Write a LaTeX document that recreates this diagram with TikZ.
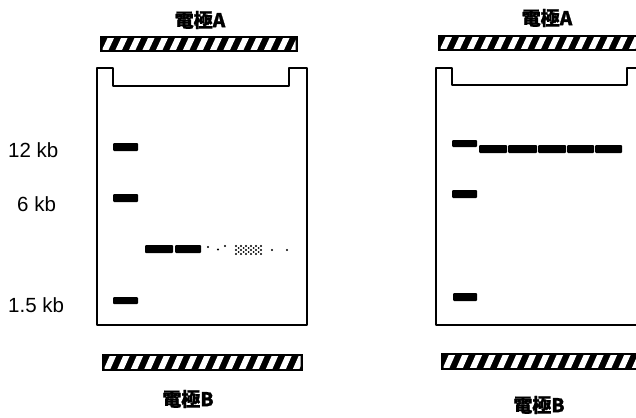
\documentclass[tikz,border=0pt]{standalone}
\usepackage{fontspec}
\setmainfont{Liberation Sans}
\newfontfamily\cjk{Noto Sans CJK TC}[BoldFeatures={FakeBold=1}]
\newcommand\hatchbar[4]{%
  \begin{scope}
    \fill[black] (#1,#2) rectangle (#3,#4);
    \clip (#1+2.5,#2+2.5) rectangle (#3-2.5,#4-2.5);
    \foreach \i in {0,...,15} {
      \fill[white] ({#1+1+13.5*\i},#4) -- ++(6.5,0) -- ++(7.5,{-(#4-#2)}) -- ++(-6.5,0) -- cycle;
    }
  \end{scope}}
\begin{document}
\begin{tikzpicture}[x=1pt,y=-1pt,
  gel/.style={line width=2.2pt, line join=round},
  band/.style={fill=black, rounded corners=1pt},
  speck/.style={fill=black},
  kblabel/.style={anchor=west, inner sep=0pt, font=\fontsize{20.5}{22}\selectfont},
  elabel/.style={inner sep=0pt, font=\cjk\bfseries\fontsize{19}{21}\selectfont}]
\useasboundingbox (0,0) rectangle (636,417);
\clip (0,0) rectangle (636,417);

% electrode labels
\node[elabel] (ea1) at (200,20) {電極A};
\node[elabel] (ea2) at (547,18) {電極A};
\node[elabel] (eb1) at (188,399) {電極B};
\node[elabel] (eb2) at (539,405) {電極B};

% electrodes
\hatchbar{100}{36}{298}{52}
\hatchbar{438}{35}{645}{51}
\hatchbar{102}{354}{303}{371}
\hatchbar{441}{353}{645}{370}

% gel boxes
\draw[gel] (97,325) -- (97,68) -- (113,68) -- (113,86) -- (289,86) -- (289,68) -- (307,68) -- (307,325) -- cycle;
\draw[gel] (436,325) -- (436,68) -- (452,68) -- (452,85) -- (627,85) -- (627,68) -- (645,68) -- (645,325) -- cycle;

% size labels
\node[kblabel] (l12) at (8,150) {12 kb};
\node[kblabel] (l6) at (17,204) {6 kb};
\node[kblabel] (l15) at (8,305) {1.5 kb};

% left gel bands
\fill[band] (113,143) rectangle (138,151);
\fill[band] (113,194) rectangle (138,202);
\fill[band] (113,297) rectangle (138,304);
\fill[band] (145,245) rectangle (173,253);
\fill[band] (175,245) rectangle (201,253);
\fill[speck] (208,247) circle (1.1);
\fill[speck] (218,249.5) circle (1.1);
\fill[speck] (225,246) circle (1.1);
\foreach \x in {236,241,...,261} {
  \foreach \y in {246,250,254} {
    \fill[speck] (\x,\y) circle (1.1);
  }
}
\foreach \x in {238.5,243.5,...,258.5} {
  \foreach \y in {248,252} {
    \fill[speck] (\x,\y) circle (1.0);
  }
}
\fill[speck] (272,250) circle (1.1);
\fill[speck] (287,250) circle (1.1);

% right gel bands
\fill[band] (452,140) rectangle (477,147);
\fill[band] (452,190) rectangle (477,198);
\fill[band] (453,293) rectangle (477,301);
\fill[band] (479,145) rectangle (507,153);
\fill[band] (508,145) rectangle (537,153);
\fill[band] (538,145) rectangle (566,153);
\fill[band] (567,145) rectangle (594,153);
\fill[band] (595,145) rectangle (622,153);
\end{tikzpicture}
\end{document}
